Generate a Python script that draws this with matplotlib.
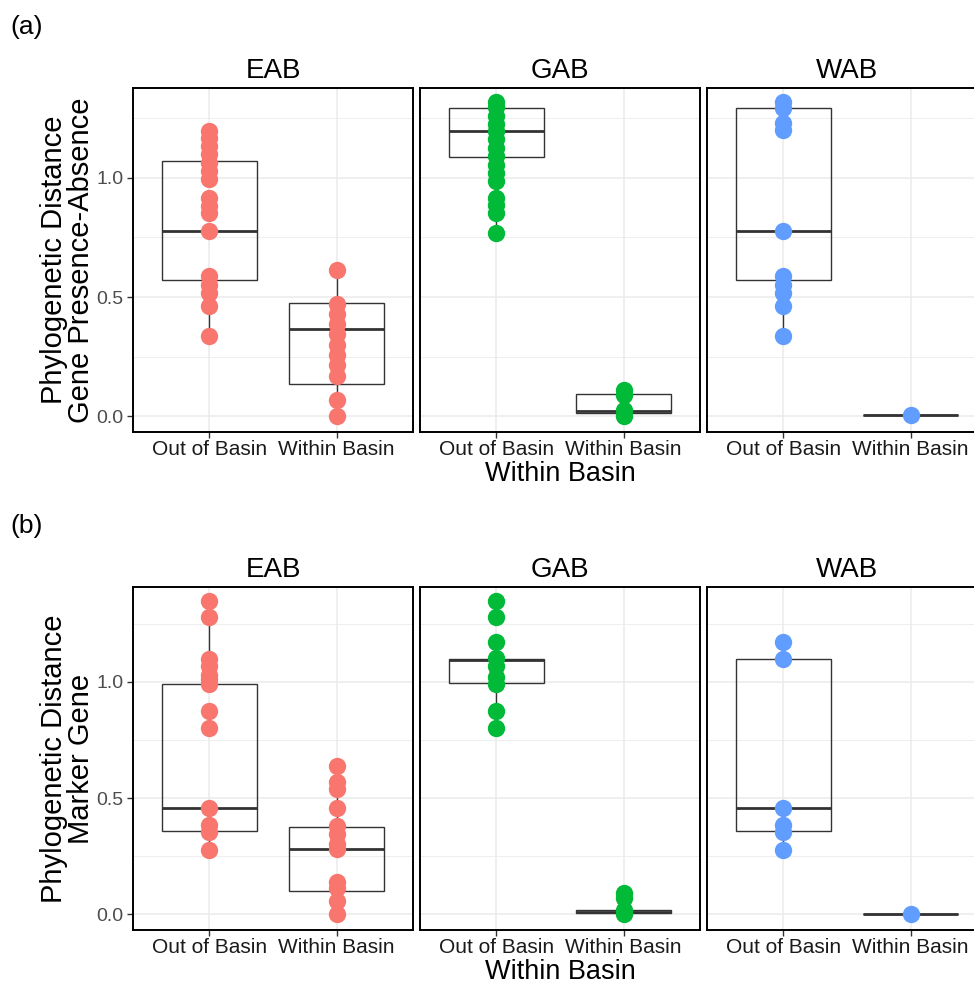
import matplotlib
matplotlib.use("Agg")
import matplotlib.pyplot as plt

plt.rcParams['font.family'] = ['Liberation Sans', 'DejaVu Sans']

basins = ["EAB", "GAB", "WAB"]
categories = ["Out of Basin", "Within Basin"]
colors = {"EAB": "#F8766D", "GAB": "#00BA38", "WAB": "#619CFF"}

# ---------- Panel (a): Gene Presence-Absence ----------
a_EAB_out = [1.196, 1.168, 1.133, 1.097, 1.063, 1.028, 0.993, 0.916, 0.881, 0.853, 0.776,
             0.587, 0.552, 0.517, 0.461, 0.336]
a_EAB_in = [0.615, 0.469, 0.427, 0.385, 0.343, 0.301, 0.259, 0.217, 0.168, 0.070, 0.0]
a_GAB_out = [1.315, 1.295, 1.26, 1.225, 1.196, 1.16, 1.125, 1.09, 1.055, 1.02, 0.985,
             0.915, 0.887, 0.85, 0.77]
a_GAB_in = [0.112, 0.09, 0.025, 0.0]
a_WAB_out = [1.315, 1.29, 1.23, 1.20, 0.776, 0.587, 0.552, 0.517, 0.461, 0.336]
a_WAB_in = [0.007]

# box stats: [whislo, q1, med, q3, whishi]
a_EAB_out_box = [0.336, 0.570, 0.776, 1.070, 1.196]
a_EAB_in_box = [0.0, 0.137, 0.367, 0.473, 0.615]
a_GAB_out_box = [0.77, 1.088, 1.196, 1.291, 1.315]
a_GAB_in_box = [0.0, 0.014, 0.021, 0.095, 0.112]
a_WAB_out_box = [0.336, 0.570, 0.776, 1.291, 1.315]
a_WAB_in_box = [0.007, 0.007, 0.007, 0.007, 0.007]

# ---------- Panel (b): Marker Gene ----------
b_EAB_out = [1.347, 1.276, 1.097, 1.066, 1.03, 1.01, 0.99, 0.872, 0.802, 0.457, 0.383, 0.352, 0.276]
b_EAB_in = [0.636, 0.569, 0.537, 0.457, 0.38, 0.347, 0.304, 0.28, 0.14, 0.112, 0.059, 0.0]
b_GAB_out = [1.347, 1.276, 1.172, 1.104, 1.066, 1.019, 0.99, 0.872, 0.802]
b_GAB_in = [0.09, 0.069, 0.019, 0.0]
b_WAB_out = [1.169, 1.097, 0.457, 0.383, 0.354, 0.276]
b_WAB_in = [0.0]

b_EAB_out_box = [0.276, 0.357, 0.457, 0.990, 1.347]
b_EAB_in_box = [0.0, 0.101, 0.280, 0.376, 0.636]
b_GAB_out_box = [0.872, 0.994, 1.093, 1.097, 1.172]
b_GAB_in_box = [0.0, 0.007, 0.010, 0.019, 0.019]
b_WAB_out_box = [0.276, 0.357, 0.457, 1.097, 1.169]
b_WAB_in_box = [0.0, 0.0, 0.0, 0.0, 0.0]

y_ticks = [0.0, 0.5, 1.0]
y_tick_labels = ["0.0", "0.5", "1.0"]

panels = [
    dict(tag="(a)", ylabel="Phylogenetic Distance\nGene Presence-Absence", ylim=(-0.0655, 1.3755),
         top=88, bottom=432,
         pts={"EAB": (a_EAB_out, a_EAB_in), "GAB": (a_GAB_out, a_GAB_in), "WAB": (a_WAB_out, a_WAB_in)},
         box={"EAB": (a_EAB_out_box, a_EAB_in_box), "GAB": (a_GAB_out_box, a_GAB_in_box),
              "WAB": (a_WAB_out_box, a_WAB_in_box)}),
    dict(tag="(b)", ylabel="Phylogenetic Distance\nMarker Gene", ylim=(-0.067, 1.407),
         top=587, bottom=930,
         pts={"EAB": (b_EAB_out, b_EAB_in), "GAB": (b_GAB_out, b_GAB_in), "WAB": (b_WAB_out, b_WAB_in)},
         box={"EAB": (b_EAB_out_box, b_EAB_in_box), "GAB": (b_GAB_out_box, b_GAB_in_box),
              "WAB": (b_WAB_out_box, b_WAB_in_box)}),
]

W, H = 974, 984
fig = plt.figure(figsize=(W / 100, H / 100), dpi=100)
lefts = [133, 420, 707]
pw = 280

for p in panels:
    top, bottom = p["top"], p["bottom"]
    for i, b in enumerate(basins):
        ax = fig.add_axes([lefts[i] / W, 1 - bottom / H, pw / W, (bottom - top) / H])
        ax.set_xlim(0.4, 2.6)
        ax.set_ylim(*p["ylim"])
        # grid
        for y in [0.25, 0.75, 1.25]:
            ax.axhline(y, color="#EBEBEB", lw=0.6, zorder=0)
        for y in y_ticks:
            ax.axhline(y, color="#EBEBEB", lw=1.1, zorder=0)
        for x in [1, 2]:
            ax.axvline(x, color="#EBEBEB", lw=1.1, zorder=0)
        # boxes
        stats = []
        for k, cat in enumerate(categories):
            s = p["box"][b][k]
            stats.append(dict(whislo=s[0], q1=s[1], med=s[2], q3=s[3], whishi=s[4], fliers=[], label=cat))
        ax.bxp(stats, positions=[1, 2], widths=0.75, showcaps=False, showfliers=False,
               patch_artist=True, manage_ticks=False,
               boxprops=dict(facecolor="none", edgecolor="#333333", linewidth=1.0),
               whiskerprops=dict(color="#333333", linewidth=1.0),
               medianprops=dict(color="#333333", linewidth=2.0, solid_capstyle="butt"))
        # points
        for k in range(2):
            vals = p["pts"][b][k]
            ax.plot([k + 1] * len(vals), vals, "o", ms=12.5, color=colors[b], mec="none", zorder=5)
        ax.set_xticks([1, 2])
        ax.set_xticklabels(categories, fontsize=15, color="#1a1a1a")
        ax.tick_params(axis="x", length=4, width=1, color="#333333", pad=2)
        if i == 0:
            ax.set_yticks(y_ticks)
            ax.set_yticklabels(y_tick_labels, fontsize=14, color="#4d4d4d")
            ax.tick_params(axis="y", length=4, width=1, color="#333333", pad=3)
            ax.set_ylabel(p["ylabel"], fontsize=21, labelpad=1, linespacing=0.95)
        else:
            ax.set_yticks(y_ticks)
            ax.tick_params(axis="y", length=0, labelleft=False)
        for sp in ax.spines.values():
            sp.set_color("black")
            sp.set_linewidth(1.4)
        ax.set_title(b, fontsize=20, pad=7)
        if i == 1:
            ax.set_xlabel("Within Basin", fontsize=19.5, labelpad=1)
    fig.text(10 / W, 1 - (top - 61) / H, p["tag"], fontsize=19, va="center", ha="left")

fig.savefig("out.png", dpi=100)
